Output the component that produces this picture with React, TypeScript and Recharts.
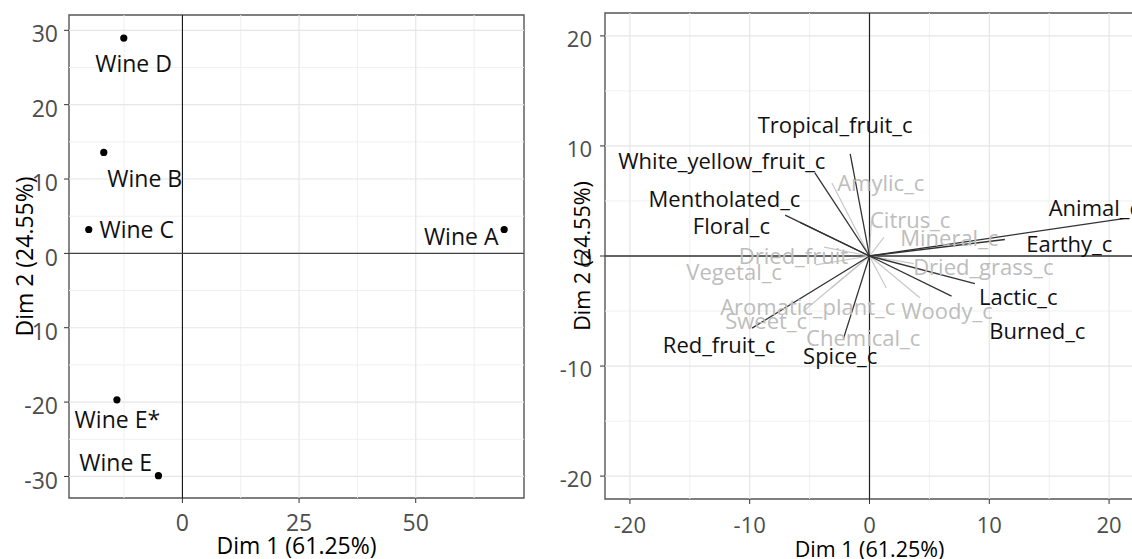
import React from 'react';
import { ScatterChart, Scatter, XAxis, YAxis, ReferenceLine, ReferenceArea, Label } from 'recharts';

// individuals map (left)
const wineNames = ['Wine A', 'Wine B', 'Wine C', 'Wine D', 'Wine E*', 'Wine E'];
const wineDim1 = [68.95, -16.85, -20.07, -12.56, -14.03, -5.14];
const wineDim2 = [3.21, 13.58, 3.21, 28.95, -19.7, -29.9];
const wineLabelDim1 = [59.74, -8.07, -9.79, -10.47, -13.94, -14.3];
const wineLabelDim2 = [2.2, 10.0, 3.23, 25.56, -22.4, -28.2];

const leftXTicks = [0, 25, 50];
const leftXMinor = [-12.5, 12.5, 37.5, 62.5];
const leftYTicks = [-30, -20, -10, 0, 10, 20, 30];
const leftYMinor = [-25, -15, -5, 5, 15, 25];

// variables map (right)
const varNames = [
  'Tropical_fruit_c', 'White_yellow_fruit_c', 'Mentholated_c', 'Floral_c', 'Red_fruit_c',
  'Spice_c', 'Animal_c', 'Earthy_c', 'Lactic_c', 'Burned_c',
  'Amylic_c', 'Citrus_c', 'Mineral_c', 'Dried_fruit', 'Vegetal_c',
  'Aromatic_plant_c', 'Sweet_c', 'Chemical_c', 'Woody_c', 'Dried_grass_c',
];
const varDim1 = [-1.61, -4.57, -7.04, -5.8, -9.8, -2.2, 21.2, 11.3, 8.8, 6.85, -3.14, 0.15, 1.2, -3.8, -4.5, -3.2, -5.5, 1.4, 4.2, 3.7];
const varDim2 = [9.27, 7.58, 3.71, 3.05, -6.55, -7.6, 3.4, 1.5, -2.5, -3.65, 6.64, 3.2, 1.7, 0.8, -0.8, -2.9, -5.0, -2.9, -3.8, -0.7];
const varMain = [true, true, true, true, true, true, true, true, true, true, false, false, false, false, false, false, false, false, false, false];
const varLabelDim1 = [-2.87, -12.33, -12.11, -11.53, -12.56, -2.45, 18.77, 16.68, 12.42, 14.01, 0.94, 3.4, 6.66, -6.35, -11.3, -5.16, -8.63, -0.53, 6.47, 9.5];
const varLabelDim2 = [11.92, 8.6, 5.13, 2.71, -8.05, -9.05, 4.38, 1.06, -3.76, -6.79, 6.65, 3.25, 1.67, 0, -1.5, -4.63, -5.88, -7.48, -4.98, -1.05];

const rightTicks = [-20, -10, 0, 10, 20];
const rightMinor = [-15, -5, 5, 15];

const wines = wineNames.map((name, i) => ({ name, x: wineDim1[i], y: wineDim2[i] }));
const wineLabels = wineNames.map((name, i) => ({ name, x: wineLabelDim1[i], y: wineLabelDim2[i] }));
const varLabels = varNames.map((name, i) => ({ name, x: varLabelDim1[i], y: varLabelDim2[i], main: varMain[i] }));

const Dot = (props: any) => <circle cx={props.cx} cy={props.cy} r={3.6} fill="#000" />;

const WineText = (props: any) => (
  <text x={props.cx} y={props.cy} dy="0.36em" textAnchor="middle" fontSize={23} fill="#111">
    {props.payload.name}
  </text>
);

const VarText = (props: any) => (
  <text x={props.cx} y={props.cy} dy="0.36em" textAnchor="middle" fontSize={22}
    fill={props.payload.main ? '#111' : '#bdbdbd'}>
    {props.payload.name}
  </text>
);

const gridMajor = '#e6e6e6';
const gridMinor = '#f0f0f0';

export default function App() {
  const lx: [number, number] = [-24.3, 73.2];
  const ly: [number, number] = [-32.9, 32.06];
  const r: [number, number] = [-22.08, 22.08];

  return (
    <div style={{ position: 'fixed', left: 0, top: 0, width: 1132, height: 559, overflow: 'hidden', background: '#fff', fontFamily: "'Open Sans', sans-serif" }}>
      <div style={{ position: 'absolute', left: 0, top: 0 }}>
        <ScatterChart width={560} height={559} margin={{ top: 15, right: 36, bottom: 0, left: 0 }}>
          <XAxis type="number" dataKey="x" domain={lx} ticks={leftXTicks} allowDataOverflow height={61}
            axisLine={false} tickSize={5} tickMargin={12} tickLine={{ stroke: '#333' }}
            tick={{ fontSize: 23, fill: '#4d4d4d' }}>
            <Label value="Dim 1 (61.25%)" position="insideBottom" offset={5} fontSize={23} fill="#000" />
          </XAxis>
          <YAxis type="number" dataKey="y" domain={ly} ticks={leftYTicks} allowDataOverflow width={69}
            axisLine={false} tickSize={5} tickMargin={6} tickLine={{ stroke: '#333' }}
            tick={{ fontSize: 23, fill: '#4d4d4d', dy: 4 }}>
            <Label value="Dim 2 (24.55%)" angle={-90} position="insideLeft" offset={25} fontSize={23} fill="#000"
              style={{ textAnchor: 'middle' }} />
          </YAxis>
          {leftXMinor.map((v) => <ReferenceLine key={'lxm' + v} x={v} stroke={gridMinor} strokeWidth={1} />)}
          {leftYMinor.map((v) => <ReferenceLine key={'lym' + v} y={v} stroke={gridMinor} strokeWidth={1} />)}
          {leftXTicks.map((v) => <ReferenceLine key={'lx' + v} x={v} stroke={gridMajor} strokeWidth={1.2} />)}
          {leftYTicks.map((v) => <ReferenceLine key={'ly' + v} y={v} stroke={gridMajor} strokeWidth={1.2} />)}
          <ReferenceLine x={0} stroke="#000" strokeWidth={1} />
          <ReferenceLine y={0} stroke="#444" strokeWidth={1.4} />
          <ReferenceArea x1={lx[0]} x2={lx[1]} y1={ly[0]} y2={ly[1]} fill="none" fillOpacity={0} stroke="#555" strokeWidth={1.4} ifOverflow="visible" />
          <Scatter data={wines} shape={Dot} isAnimationActive={false} />
          <Scatter data={wineLabels} shape={WineText} isAnimationActive={false} />
        </ScatterChart>
      </div>
      <div style={{ position: 'absolute', left: 560, top: 0 }}>
        <ScatterChart width={580} height={559} margin={{ top: 13, right: 6, bottom: 0, left: 0 }}>
          <XAxis type="number" dataKey="x" domain={r} ticks={rightTicks} allowDataOverflow height={60}
            axisLine={false} tickSize={5} tickMargin={13} tickLine={{ stroke: '#333' }}
            tick={{ fontSize: 22, fill: '#4d4d4d' }}>
            <Label value="Dim 1 (61.25%)" position="insideBottom" offset={2} fontSize={21.5} fill="#000" />
          </XAxis>
          <YAxis type="number" dataKey="y" domain={r} ticks={rightTicks} allowDataOverflow width={45}
            axisLine={false} tickSize={5} tickMargin={8} tickLine={{ stroke: '#333' }}
            tick={{ fontSize: 22, fill: '#4d4d4d', dy: 3 }}>
            <Label value="Dim 2 (24.55%)" angle={-90} position="insideLeft" offset={22} fontSize={21.5} fill="#000"
              style={{ textAnchor: 'middle' }} />
          </YAxis>
          {rightMinor.map((v) => <ReferenceLine key={'rxm' + v} x={v} stroke={gridMinor} strokeWidth={1} />)}
          {rightMinor.map((v) => <ReferenceLine key={'rym' + v} y={v} stroke={gridMinor} strokeWidth={1} />)}
          {rightTicks.map((v) => <ReferenceLine key={'rx' + v} x={v} stroke={gridMajor} strokeWidth={1.2} />)}
          {rightTicks.map((v) => <ReferenceLine key={'ry' + v} y={v} stroke={gridMajor} strokeWidth={1.2} />)}
          <ReferenceLine x={0} stroke="#222" strokeWidth={1.2} />
          <ReferenceLine y={0} stroke="#333" strokeWidth={1.3} />
          <ReferenceArea x1={r[0]} x2={r[1]} y1={r[0]} y2={r[1]} fill="none" fillOpacity={0} stroke="#555" strokeWidth={1.4} ifOverflow="visible" />
          {varNames.map((n, i) => !varMain[i] && (
            <ReferenceLine key={'g' + n} segment={[{ x: 0, y: 0 }, { x: varDim1[i], y: varDim2[i] }]} stroke="#c8c8c8" strokeWidth={1.2} />
          ))}
          {varNames.map((n, i) => varMain[i] && (
            <ReferenceLine key={'b' + n} segment={[{ x: 0, y: 0 }, { x: varDim1[i], y: varDim2[i] }]} stroke="#333" strokeWidth={1.3} />
          ))}
          <Scatter data={varLabels.filter((d) => !d.main)} shape={VarText} isAnimationActive={false} />
          <Scatter data={varLabels.filter((d) => d.main)} shape={VarText} isAnimationActive={false} />
        </ScatterChart>
      </div>
    </div>
  );
}
